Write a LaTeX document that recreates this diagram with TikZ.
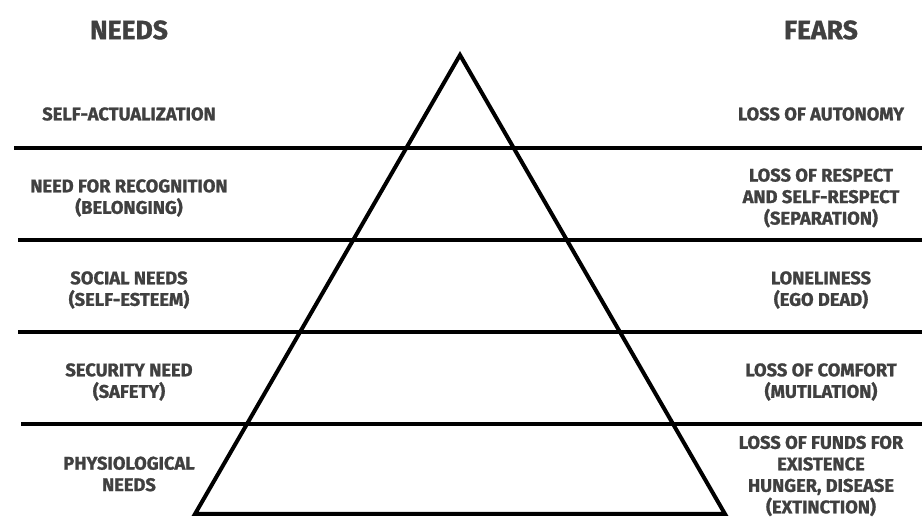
\documentclass[tikz,border=0pt]{standalone}
\usepackage{fontspec}
\newfontfamily\pyrfont{Fira Sans}[BoldFeatures={FakeBold=1.2}]
\usepackage{tikz}
\usetikzlibrary{%
	calc,%
	positioning,%
}
\definecolor{ctext}{RGB}{64, 64, 64}
\tikzset{
	nodes={align=center},%
	pyrline/.style={%
			draw=black,%
			line width=4pt},%
	header/.style={%
			text=ctext,%
			inner sep=0,%
			font={\pyrfont\bfseries\fontsize{26.5}{30}\selectfont}},%
	levellabel/.style={%
			text=ctext,%
			inner sep=0,%
			font={\pyrfont\bfseries\fontsize{18.3}{21.5}\selectfont}},%
}

\begin{document}
\begin{tikzpicture}[x=1pt, y=-1pt]%
	\useasboundingbox (0,0) rectangle (922,518);

	% pyramid
	\coordinate (apex) at (460,55);
	\coordinate (baseleft) at (195,514);
	\coordinate (baseright) at (725,514);
	\draw[pyrline, line join=miter] (apex) -- (baseright) -- (baseleft) -- cycle;

	% level separators
	\draw[pyrline] (14,148) -- (922,148);
	\draw[pyrline] (18,240) -- (922,240);
	\draw[pyrline] (18,332) -- (922,332);
	\draw[pyrline] (21,424) -- (922,424);

	\node[header] (needs) at (129,30) {NEEDS};
	\node[header] (fears) at (821,30) {FEARS};

	\node[levellabel] (selfact) at (129,114) {SELF-ACTUALIZATION};
	\node[levellabel] (recog) at (129,198) {NEED FOR RECOGNITION\\(BELONGING)};
	\node[levellabel] (social) at (129,290) {SOCIAL NEEDS\\(SELF-ESTEEM)};
	\node[levellabel] (security) at (129,382) {SECURITY NEED\\(SAFETY)};
	\node[levellabel] (physio) at (129,474) {PHYSIOLOGICAL\\NEEDS};

	\node[levellabel] (autonomy) at (821,114) {LOSS OF AUTONOMY};
	\node[levellabel] (respect) at (821,198) {LOSS OF RESPECT\\AND SELF-RESPECT\\(SEPARATION)};
	\node[levellabel] (lonely) at (821,290) {LONELINESS\\(EGO DEAD)};
	\node[levellabel] (comfort) at (821,382) {LOSS OF COMFORT\\(MUTILATION)};
	\node[levellabel] (funds) at (821,476) {LOSS OF FUNDS FOR\\EXISTENCE\\HUNGER, DISEASE\\(EXTINCTION)};
\end{tikzpicture}
\end{document}
